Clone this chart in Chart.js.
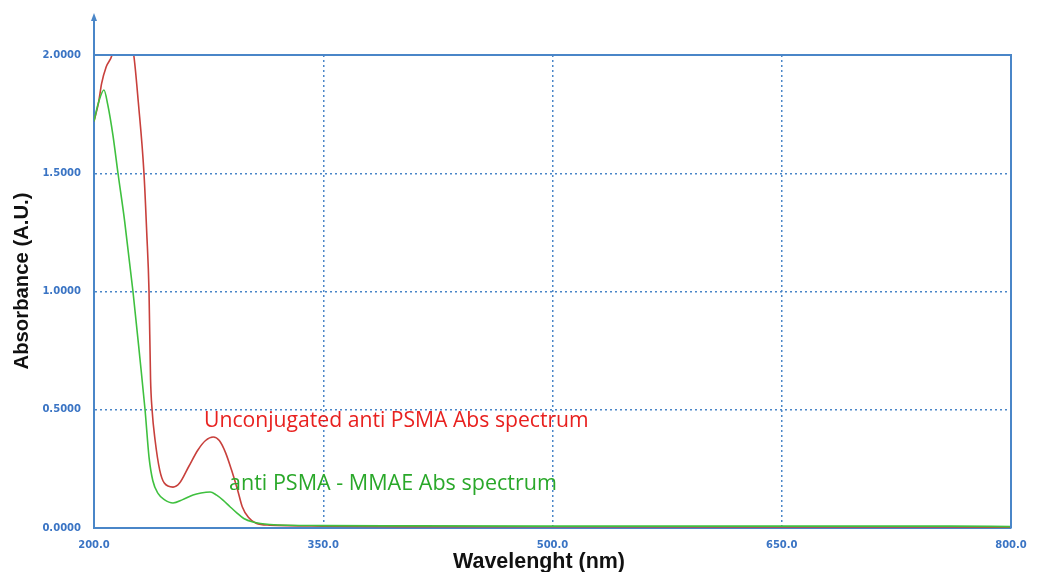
<!DOCTYPE html>
<html>
<head>
<meta charset="utf-8">
<script src="https://cdn.jsdelivr.net/npm/chart.js@4.4.0/dist/chart.umd.min.js"></script>
<style>
  html, body { margin: 0; padding: 0; background: #fff; }
  #wrap { width: 1064px; height: 572px; }
</style>
</head>
<body>
<div id="wrap"><canvas id="absChart"></canvas></div>
<script>
// wavelength (nm) / absorbance
const redWl = [200, 203, 205, 208, 211.8, 215, 219, 223, 226, 229, 232.7, 234.5, 236, 237, 238, 240, 243, 246, 251.7, 256, 262, 268, 273, 278, 282, 286, 290, 294, 297, 301, 306, 315, 350, 400, 500, 650, 760, 800];
const redAbs = [1.72, 1.8, 1.88, 1.95, 2.0, 2.1, 2.12, 2.08, 2.0, 1.8, 1.5, 1.25, 1.0, 0.63, 0.5, 0.37, 0.245, 0.19, 0.173, 0.19, 0.26, 0.33, 0.37, 0.385, 0.37, 0.32, 0.245, 0.16, 0.09, 0.045, 0.02, 0.012, 0.008, 0.006, 0.005, 0.004, 0.004, 0.003];

const greenWl = [200, 203, 206.5, 209, 212.4, 215.7, 220, 225.5, 230, 233.4, 236, 238.5, 242, 246, 251.7, 258, 264.8, 270, 276, 280, 284.4, 289, 293.6, 298, 304, 315, 350, 400, 500, 650, 760, 800];
const greenAbs = [1.72, 1.8, 1.852, 1.79, 1.66, 1.5, 1.3, 1.0, 0.72, 0.5, 0.3, 0.2, 0.145, 0.12, 0.106, 0.12, 0.14, 0.148, 0.152, 0.14, 0.118, 0.09, 0.063, 0.04, 0.025, 0.015, 0.01, 0.009, 0.008, 0.008, 0.008, 0.006];

const xTicks = [200, 350, 500, 650, 800];
const yTicks = [0, 0.5, 1.0, 1.5, 2.0];

const blue = '#4a86c8';
const tickBlue = '#3a74c4';

function toPoints(xs, ys) {
    return xs.map((x, i) => ({ x: x, y: ys[i] }));
}

// draw text squeezed/stretched to a given width
function fitText(ctx, text, x, y, weight, family, width) {
    ctx.font = weight + ' 20px ' + family;
    const size = 20 * width / ctx.measureText(text).width;
    ctx.font = weight + ' ' + size.toFixed(2) + 'px ' + family;
    ctx.fillText(text, x, y);
}

const framePlugin = {
    id: 'frame',
    afterDraw(chart) {
        const ctx = chart.ctx;
        const a = chart.chartArea;
        ctx.save();
        // top and right border
        ctx.strokeStyle = blue;
        ctx.lineWidth = 2;
        ctx.beginPath();
        ctx.moveTo(a.left, a.top);
        ctx.lineTo(a.right, a.top);
        ctx.lineTo(a.right, a.bottom);
        ctx.stroke();
        // y axis extension with arrow
        ctx.beginPath();
        ctx.moveTo(a.left, a.top);
        ctx.lineTo(a.left, 18);
        ctx.stroke();
        ctx.fillStyle = blue;
        ctx.beginPath();
        ctx.moveTo(a.left, 13);
        ctx.lineTo(a.left - 3, 21);
        ctx.lineTo(a.left + 3, 21);
        ctx.closePath();
        ctx.fill();

        // axis titles
        const titleFont = '"Liberation Sans", Arial, sans-serif';
        ctx.fillStyle = '#111';
        ctx.textAlign = 'center';
        ctx.textBaseline = 'middle';
        fitText(ctx, 'Wavelenght (nm)', 539, 562, 'bold', titleFont, 172);
        ctx.save();
        ctx.translate(22, 281);
        ctx.rotate(-Math.PI / 2);
        fitText(ctx, 'Absorbance (A.U.)', 0, 0, 'bold', titleFont, 177);
        ctx.restore();

        // curve labels
        ctx.textAlign = 'left';
        ctx.fillStyle = '#e8211f';
        fitText(ctx, 'Unconjugated anti PSMA Abs spectrum', 204, 421, 'normal', '"Open Sans", sans-serif', 385);
        ctx.fillStyle = '#2aa82a';
        fitText(ctx, 'anti PSMA - MMAE Abs spectrum', 229, 484, 'normal', '"Open Sans", sans-serif', 328);
        ctx.restore();
    }
};

const ctx = document.getElementById('absChart').getContext('2d');
const absChart = new Chart(ctx, {
    type: 'line',
    data: {
        datasets: [{
            label: 'anti PSMA - MMAE',
            data: toPoints(greenWl, greenAbs),
            borderColor: '#3fc03f',
            borderWidth: 1.6,
            pointRadius: 0,
            cubicInterpolationMode: 'monotone'
        }, {
            label: 'Unconjugated anti PSMA',
            data: toPoints(redWl, redAbs),
            borderColor: '#c8403c',
            borderWidth: 1.6,
            pointRadius: 0,
            cubicInterpolationMode: 'monotone'
        }]
    },
    options: {
        responsive: true,
        maintainAspectRatio: false,
        animation: false,
        layout: { padding: { top: 55, right: 53, left: 0, bottom: 0 } },
        plugins: {
            legend: { display: false },
            tooltip: { enabled: false }
        },
        scales: {
            x: {
                type: 'linear',
                min: 200,
                max: 800,
                afterBuildTicks: scale => { scale.ticks = xTicks.map(v => ({ value: v })); },
                afterFit: scale => { scale.height = 44; },
                ticks: {
                    color: tickBlue,
                    font: { family: 'DejaVu Sans', size: 10, weight: 'bold' },
                    padding: 11,
                    maxRotation: 0,
                    callback: v => v.toFixed(1)
                },
                grid: {
                    drawTicks: false,
                    color: c => (c.tick && (c.tick.value === 200 || c.tick.value === 800)) ? 'transparent' : blue,
                    lineWidth: 1.5
                },
                border: { color: blue, width: 2, dash: [2, 3] }
            },
            y: {
                min: 0,
                max: 2,
                afterBuildTicks: scale => { scale.ticks = yTicks.map(v => ({ value: v })); },
                afterFit: scale => { scale.width = 94; },
                ticks: {
                    color: tickBlue,
                    font: { family: 'DejaVu Sans', size: 10, weight: 'bold' },
                    padding: 13,
                    callback: v => v.toFixed(4)
                },
                grid: {
                    drawTicks: false,
                    color: c => (c.tick && (c.tick.value === 0 || c.tick.value === 2)) ? 'transparent' : blue,
                    lineWidth: 1.5
                },
                border: { color: blue, width: 2, dash: [2, 3] }
            }
        }
    },
    plugins: [framePlugin]
});
</script>
</body>
</html>
